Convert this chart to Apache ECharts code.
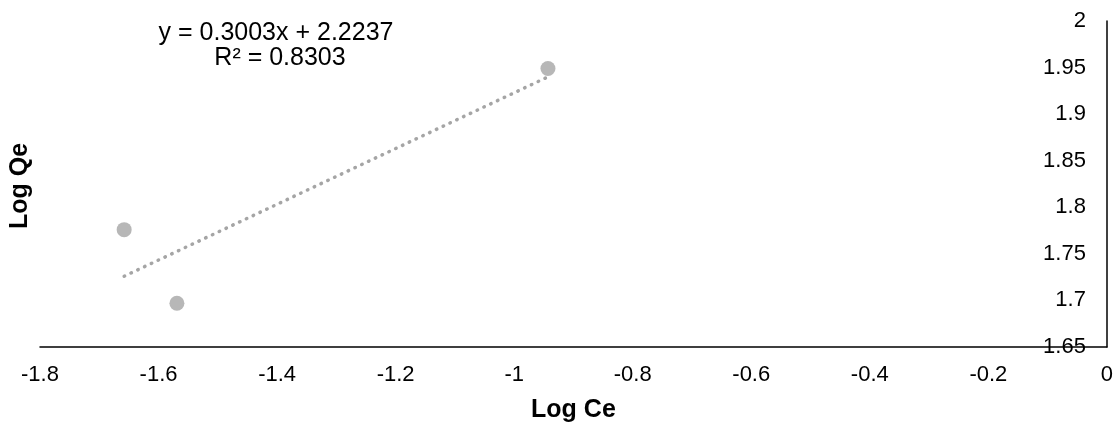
<!DOCTYPE html>
<html>
<head>
<meta charset="utf-8">
<script src="https://cdn.jsdelivr.net/npm/echarts@6/dist/echarts.min.js"></script>
<style>html,body{margin:0;padding:0;background:#fff}#c{width:1116px;height:428px}</style>
</head>
<body>
<div id="c"></div>
<script>
const logCe = [-1.658, -1.569, -0.943];
const logQe = [1.776, 1.697, 1.949];
const trendX = [-1.658, -0.943];
const trendY = [1.726, 1.940];
const equationText = 'y = 0.3003x + 2.2237';
const r2Text = 'R² = 0.8303';
const xTitle = 'Log Ce', yTitle = 'Log Qe';

const font = 'Liberation Sans, Arial, sans-serif';
const chart = echarts.init(document.getElementById('c'), null, {renderer: 'canvas'});
chart.setOption({
  animation: false,
  backgroundColor: '#fff',
  grid: {left: 40, right: 8, top: 21, bottom: 79},
  xAxis: {
    type: 'value', min: -1.8, max: 0, interval: 0.2,
    axisLine: {onZero: false, lineStyle: {color: '#000', width: 1.5}},
    axisTick: {show: false}, splitLine: {show: false},
    axisLabel: {color: '#000', fontSize: 22, fontFamily: font, margin: 17,
      formatter: v => String(Math.round(v * 10) / 10)},
    name: xTitle, nameLocation: 'middle', nameGap: 51,
    nameTextStyle: {color: '#000', fontSize: 25, fontWeight: 'bold', fontFamily: font}
  },
  yAxis: {
    type: 'value', min: 1.65, max: 2, interval: 0.05, position: 'right',
    axisLine: {onZero: false, lineStyle: {color: '#000', width: 1.5}},
    axisTick: {show: false}, splitLine: {show: false},
    axisLabel: {inside: true, color: '#000', fontSize: 22, fontFamily: font, margin: 21,
      formatter: v => String(Math.round(v * 100) / 100)}
  },
  graphic: [
    {type: 'text', x: 276, y: 33, style: {text: equationText, fill: '#000', font: '25px ' + font, align: 'center', verticalAlign: 'middle'}},
    {type: 'text', x: 280, y: 58, style: {text: r2Text, fill: '#000', font: '25px ' + font, align: 'center', verticalAlign: 'middle'}},
    {type: 'text', x: 20, y: 186, rotation: Math.PI / 2, style: {text: yTitle, fill: '#000', font: 'bold 25px ' + font, align: 'center', verticalAlign: 'middle'}}
  ],
  series: [
    {
      type: 'line', data: trendX.map((x, i) => [x, trendY[i]]), symbol: 'none',
      lineStyle: {color: '#A5A5A5', width: 3.5, type: [0.5, 7], cap: 'round'}, z: 1
    },
    {
      type: 'scatter', data: logCe.map((x, i) => [x, logQe[i]]), symbolSize: 15,
      itemStyle: {color: '#A5A5A5'}, z: 2
    }
  ]
});
</script>
</body>
</html>
